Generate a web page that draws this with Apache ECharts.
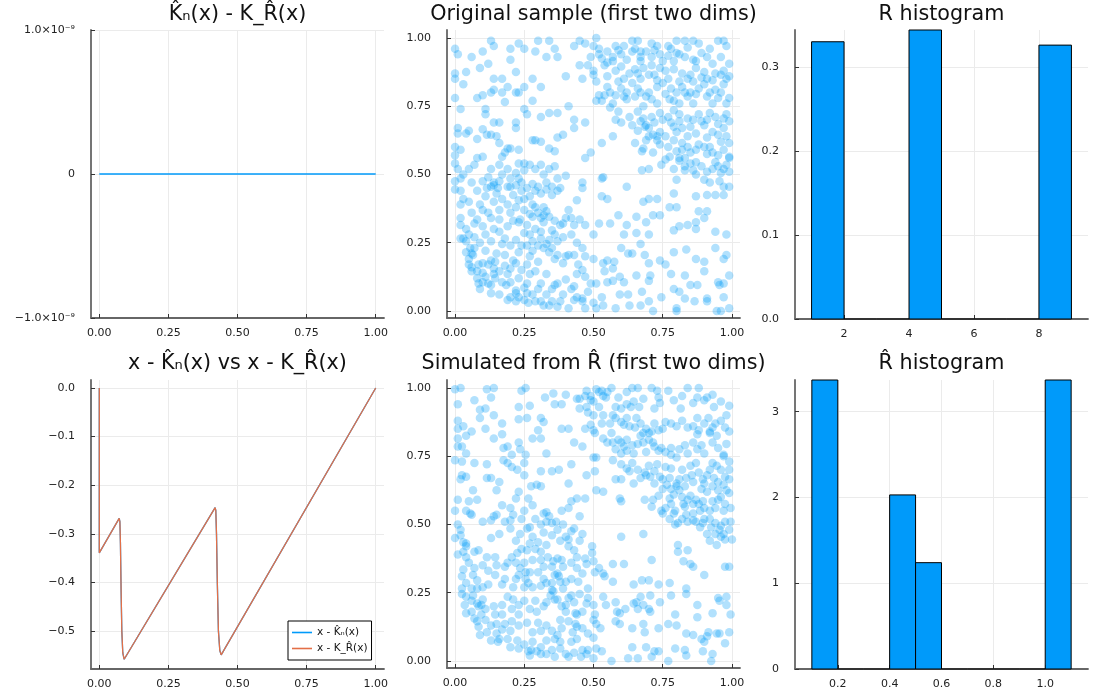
<!DOCTYPE html>
<html><head><meta charset="utf-8">
<script src="https://cdn.jsdelivr.net/npm/echarts@6/dist/echarts.min.js"></script>
<style>html,body{margin:0;padding:0;background:#fff}#c{width:1100px;height:700px}</style>
</head><body><div id="c"></div>
<script>
const FONT = 'DejaVu Sans';
const BLUE = '#009AFA';
const ORANGE = '#E36F47';

const panelTitles = ['K\u0302\u2099(x) - K_R\u0302(x)', 'Original sample (first two dims)', 'R histogram',
  'x - K\u0302\u2099(x) vs x - K_R\u0302(x)', 'Simulated from R\u0302 (first two dims)', 'R\u0302 histogram'];
const legendNames = ['x - K\u0302\u2099(x)', 'x - K_R\u0302(x)'];

// Panel 1: difference (identically zero)
const diffX = [0, 1];
const diffY = [0, 0];
const diffYTicks = [-1e-9, 0, 1e-9];
const diffYLabels = ['\u22121.0\u00d710\u207b\u2079', '0', '1.0\u00d710\u207b\u2079'];

// Unit ticks
const unitTicks = [0, 0.25, 0.5, 0.75, 1];
const unitLabels = ['0.00', '0.25', '0.50', '0.75', '1.00'];

// Panel 4: x - K(x)
const curveX = [0, 0, 0.072, 0.0745, 0.0765, 0.079, 0.0815, 0.085, 0.09, 0.0965, 0.419, 0.4215, 0.424, 0.427, 0.431, 0.436, 0.441, 0.446, 1.0];
const curveY = [0, -0.339, -0.268, -0.275, -0.32, -0.42, -0.50, -0.545, -0.558, -0.562, -0.246, -0.252, -0.30, -0.40, -0.50, -0.54, -0.549, -0.551, 0];
const curveYTicks = [-0.5, -0.4, -0.3, -0.2, -0.1, 0];
const curveYLabels = ['\u22120.5', '\u22120.4', '\u22120.3', '\u22120.2', '\u22120.1', '0.0'];

// Panel 3: R histogram
const rEdges = [1, 2, 3, 4, 5, 6, 7, 8, 9];
const rDensity = [0.330, 0, 0, 0.344, 0, 0, 0, 0.326];
const rXTicks = [2, 4, 6, 8];
const rXLabels = ['2', '4', '6', '8'];
const rYTicks = [0, 0.1, 0.2, 0.3];
const rYLabels = ['0.0', '0.1', '0.2', '0.3'];

// Panel 6: R-hat histogram
const rhEdges = [0.1, 0.2, 0.3, 0.4, 0.5, 0.6, 0.7, 0.8, 0.9, 1.0, 1.1];
const rhDensity = [3.37, 0, 0, 2.03, 1.24, 0, 0, 0, 0, 3.37];
const rhXTicks = [0.2, 0.4, 0.6, 0.8, 1.0];
const rhXLabels = ['0.2', '0.4', '0.6', '0.8', '1.0'];
const rhYTicks = [0, 1, 2, 3];
const rhYLabels = ['0', '1', '2', '3'];

// Panel 2: original sample
const origPts = [
[0.00,.96],[0.01,.94],[0.13,.99],[0.14,.97],[0.10,.95],[0.06,.93],[0.20,.96],[0.23,.98],[0.25,.96],[0.30,.99],[0.34,.99],[0.36,.96],[0.29,.95],[0.33,.93],[0.37,.93],[0.45,.99],[0.43,.97],[0.47,.98],[0.51,1.0],[0.50,.97],[0.52,.94],[0.53,.925],[0.55,.95],[0.49,.93],[0.58,.97],[0.61,.97],[0.64,.99],[0.66,.99],[0.67,.95],[0.64,.95],[0.60,.94],[0.57,.93],[0.67,.93],[0.71,.98],[0.73,.97],[0.74,.94],[0.77,.97],[0.78,.96],[0.80,.99],[0.83,.99],[0.86,.99],[0.81,.94],[0.83,.93],[0.86,.92],[0.88,.98],[0.92,.96],[0.95,.99],[0.97,.99],[0.98,.97],[0.91,.93],[0.96,.93],[0.71,.93],
[0.00,.87],[0.00,.85],[0.03,.83],[0.04,.875],[0.09,.89],[0.12,.905],[0.20,.92],[0.17,.85],[0.22,.875],[0.14,.85],[0.28,.85],[0.40,.86],[0.46,.85],[0.45,.90],[0.48,.90],[0.50,.88],[0.50,.865],[0.51,.84],[0.54,.90],[0.57,.915],[0.58,.88],[0.60,.895],[0.63,.87],[0.61,.85],[0.65,.885],[0.67,.85],[0.68,.89],[0.71,.90],[0.74,.89],[0.72,.865],[0.76,.88],[0.79,.885],[0.82,.87],[0.85,.865],[0.87,.89],[0.84,.85],[0.90,.875],[0.91,.85],[0.94,.87],[0.96,.865],[0.98,.85],[0.87,.915],[0.79,.915],[0.67,.915],
[0.00,.78],[0.08,.78],[0.10,.79],[0.13,.80],[0.14,.81],[0.17,.80],[0.19,.82],[0.22,.80],[0.23,.80],[0.25,.82],[0.31,.82],[0.28,.77],[0.18,.765],[0.51,.77],[0.52,.79],[0.54,.79],[0.56,.80],[0.58,.79],[0.60,.815],[0.62,.80],[0.65,.785],[0.67,.80],[0.69,.785],[0.70,.80],[0.73,.82],[0.75,.835],[0.78,.815],[0.80,.80],[0.82,.82],[0.84,.785],[0.85,.80],[0.88,.815],[0.90,.83],[0.92,.80],[0.94,.81],[0.96,.80],[0.99,.78],[0.93,.76],[0.86,.76],[0.81,.76],[0.775,.775],[0.73,.76],[0.68,.75],[0.62,.775],[0.57,.76],[0.53,.77],
[0.02,.74],[0.01,.67],[0.01,.65],[0.05,.66],[0.11,.74],[0.11,.72],[0.10,.665],[0.14,.69],[0.16,.69],[0.13,.645],[0.22,.69],[0.22,.67],[0.25,.74],[0.26,.72],[0.31,.71],[0.34,.725],[0.37,.725],[0.43,.70],[0.47,.69],[0.43,.67],[0.41,.75],[0.56,.745],[0.58,.70],[0.60,.69],[0.64,.68],[0.67,.695],[0.69,.68],[0.70,.67],[0.71,.71],[0.74,.725],[0.77,.71],[0.79,.735],[0.81,.72],[0.84,.705],[0.88,.72],[0.91,.70],[0.94,.71],[0.97,.705],[0.99,.695],[0.97,.67],[0.93,.655],[0.90,.68],[0.85,.675],[0.81,.695],[0.79,.675],[0.74,.655],[0.73,.64],[0.685,.675],
[0.00,.60],[0.00,.57],[0.02,.59],[0.04,.65],[0.08,.63],[0.10,.565],[0.115,.645],[0.15,.64],[0.16,.615],[0.19,.595],[0.20,.595],[0.18,.58],[0.17,.565],[0.23,.59],[0.28,.625],[0.29,.625],[0.31,.62],[0.34,.595],[0.36,.585],[0.37,.635],[0.39,.645],[0.47,.56],[0.49,.58],[0.53,.615],[0.57,.64],[0.65,.615],[0.68,.595],[0.69,.625],[0.715,.645],[0.73,.625],[0.74,.61],[0.715,.58],[0.675,.585],[0.79,.625],[0.80,.585],[0.82,.59],[0.85,.58],[0.87,.59],[0.90,.60],[0.93,.58],[0.96,.62],[0.99,.615],[0.99,.565],[0.91,.575],[0.775,.565],[0.81,.56],
[0.00,.54],[0.01,.52],[0.02,.485],[0.00,.475],[0.05,.52],[0.07,.535],[0.08,.56],[0.13,.52],[0.16,.535],[0.19,.52],[0.23,.54],[0.25,.54],[0.27,.535],[0.29,.52],[0.31,.535],[0.34,.52],[0.36,.53],[0.37,.485],[0.40,.495],[0.20,.485],[0.23,.485],[0.16,.475],[0.14,.47],[0.10,.475],[0.46,.47],[0.53,.485],[0.535,.49],[0.62,.455],[0.675,.515],[0.70,.52],[0.745,.535],[0.76,.555],[0.79,.52],[0.81,.55],[0.83,.53],[0.85,.54],[0.86,.515],[0.83,.515],[0.87,.50],[0.90,.48],[0.91,.51],[0.93,.52],[0.95,.53],[0.97,.52],[0.99,.56],[0.99,.51],[0.98,.535],[0.955,.475],[0.92,.47],[0.80,.48],
[0.00,.445],[0.02,.44],[0.02,.39],[0.03,.41],[0.115,.45],[0.13,.455],[0.14,.46],[0.155,.45],[0.19,.455],[0.20,.455],[0.22,.46],[0.24,.44],[0.25,.41],[0.23,.405],[0.27,.42],[0.29,.44],[0.31,.43],[0.33,.445],[0.35,.425],[0.37,.44],[0.38,.45],[0.09,.39],[0.10,.37],[0.14,.40],[0.19,.39],[0.22,.38],[0.28,.39],[0.29,.38],[0.32,.38],[0.33,.365],[0.44,.405],[0.46,.45],[0.53,.42],[0.55,.41],[0.68,.40],[0.70,.41],[0.73,.41],[0.715,.35],[0.775,.38],[0.79,.43],[0.80,.38],[0.87,.42],[0.91,.425],[0.94,.425],[0.97,.425],[0.99,.455],[0.97,.455],[0.88,.365],[0.91,.365],
[0.02,.34],[0.02,.315],[0.04,.30],[0.02,.265],[0.07,.32],[0.10,.31],[0.07,.27],[0.13,.34],[0.16,.335],[0.23,.325],[0.235,.335],[0.26,.315],[0.28,.345],[0.31,.34],[0.32,.35],[0.32,.325],[0.29,.30],[0.31,.29],[0.35,.295],[0.36,.28],[0.38,.315],[0.41,.37],[0.42,.34],[0.43,.315],[0.45,.335],[0.47,.315],[0.50,.28],[0.16,.29],[0.27,.28],[0.25,.285],[0.52,.32],[0.56,.32],[0.59,.35],[0.62,.315],[0.655,.345],[0.69,.325],[0.74,.35],[0.79,.295],[0.81,.31],[0.84,.315],[0.87,.325],[0.87,.30],[0.90,.34],[0.94,.29],[0.98,.28],[0.70,.28],[0.655,.285],[0.61,.28],
[0.03,.265],[0.04,.255],[0.055,.23],[0.06,.21],[0.04,.215],[0.05,.19],[0.065,.205],[0.05,.17],[0.06,.16],[0.085,.17],[0.10,.175],[0.12,.17],[0.13,.185],[0.145,.18],[0.17,.245],[0.20,.24],[0.21,.185],[0.22,.175],[0.24,.24],[0.26,.24],[0.28,.22],[0.30,.24],[0.32,.23],[0.34,.215],[0.35,.23],[0.33,.245],[0.37,.205],[0.40,.20],[0.41,.205],[0.43,.205],[0.42,.28],[0.445,.17],[0.47,.20],[0.50,.19],[0.535,.175],[0.55,.185],[0.575,.18],[0.57,.155],[0.60,.23],[0.625,.21],[0.64,.21],[0.67,.245],[0.685,.205],[0.70,.175],[0.74,.185],[0.76,.17],[0.79,.215],[0.835,.225],[0.87,.19],[0.90,.18],[0.97,.19],[0.94,.23],[0.98,.205],[0.30,.18],[0.26,.17],
[0.06,.145],[0.08,.12],[0.085,.10],[0.10,.105],[0.09,.08],[0.12,.10],[0.13,.095],[0.13,.065],[0.145,.12],[0.17,.105],[0.185,.095],[0.20,.105],[0.22,.075],[0.22,.065],[0.14,.135],[0.16,.145],[0.19,.135],[0.26,.10],[0.27,.135],[0.29,.145],[0.30,.08],[0.31,.10],[0.33,.135],[0.35,.08],[0.36,.095],[0.37,.10],[0.42,.08],[0.43,.09],[0.44,.135],[0.46,.15],[0.49,.10],[0.51,.10],[0.54,.145],[0.55,.105],[0.57,.11],[0.595,.125],[0.61,.105],[0.655,.13],[0.70,.11],[0.705,.13],[0.78,.135],[0.81,.07],[0.83,.13],[0.85,.095],[0.875,.095],[0.90,.145],[0.95,.105],[0.97,.10],[0.99,.13],[0.955,.095],[0.79,.08],[0.675,.07],
[0.16,.06],[0.19,.04],[0.23,.05],[0.26,.065],[0.265,.03],[0.29,.035],[0.31,.035],[0.32,.02],[0.34,.02],[0.35,.035],[0.37,.015],[0.38,.035],[0.41,.01],[0.43,.04],[0.46,.045],[0.46,.035],[0.47,.01],[0.50,.03],[0.51,.01],[0.535,.02],[0.58,.01],[0.595,.06],[0.625,.06],[0.63,.02],[0.67,.02],[0.70,.035],[0.715,.00],[0.745,.05],[0.80,.01],[0.80,.00],[0.83,.045],[0.865,.035],[0.91,.045],[0.91,.035],[0.945,.00],[0.96,.00],[0.97,.05],[0.99,.01],
[0.52,.96],[0.55,.91],[0.59,.955],[0.62,.92],[0.65,.96],[0.69,.95],[0.72,.955],[0.75,.915],[0.77,.935],[0.80,.945],[0.84,.965],[0.89,.945],[0.93,.905],[0.97,.88],[0.99,.905],[0.55,.86],[0.59,.84],[0.64,.835],[0.66,.87],[0.70,.865],[0.73,.845],[0.77,.85],[0.81,.84],[0.86,.84],[0.89,.855],[0.93,.845],[0.97,.83],[0.99,.86],[0.55,.82],[0.61,.785],[0.66,.815],[0.71,.775],[0.76,.795],[0.79,.77],[0.83,.80],[0.87,.795],[0.91,.785],[0.95,.78],[0.98,.76],[0.59,.73],[0.63,.71],[0.66,.73],[0.68,.705],[0.72,.69],[0.75,.70],[0.78,.69],[0.82,.67],[0.86,.70],[0.89,.695],[0.92,.725],[0.95,.685],[0.98,.72],[0.66,.66],[0.70,.64],[0.76,.64],[0.80,.655],[0.84,.64],[0.87,.65],[0.91,.635],[0.95,.645],[0.98,.64],[0.77,.60],[0.82,.615],[0.84,.60],[0.88,.61],[0.92,.60],[0.95,.57],[0.97,.59],[0.83,.56],[0.87,.545],[0.89,.53],[0.94,.545],[0.96,.505],
[0.03,.50],[0.06,.47],[0.08,.44],[0.11,.42],[0.15,.43],[0.17,.41],[0.21,.425],[0.24,.47],[0.26,.45],[0.28,.465],[0.30,.455],[0.33,.47],[0.35,.455],[0.22,.505],[0.25,.515],[0.32,.50],[0.12,.49],[0.17,.50],[0.05,.40],[0.06,.36],[0.08,.335],[0.12,.36],[0.16,.37],[0.20,.36],[0.25,.37],[0.27,.355],[0.30,.36],[0.34,.345],[0.36,.33],[0.39,.32],[0.40,.34],[0.21,.33],[0.19,.31],[0.14,.30],[0.11,.28],[0.05,.28],[0.09,.25],[0.13,.255],[0.18,.265],[0.22,.26],[0.28,.255],[0.31,.265],[0.34,.26],[0.37,.255],[0.39,.27],[0.44,.25],[0.46,.23],[0.07,.23],[0.11,.22],[0.15,.21],[0.18,.205],[0.23,.215],[0.27,.20],[0.36,.19],[0.39,.175],[0.08,.145],[0.10,.14],[0.11,.125],[0.14,.155],[0.18,.165],[0.20,.155],[0.24,.15],[0.23,.12],[0.25,.085],[0.28,.06],[0.20,.05],[0.22,.035],[0.25,.04],[0.33,.06],[0.39,.06],[0.44,.05],[0.48,.07],[0.53,.05],[0.40,.115],[0.47,.125]
];

// Panel 5: simulated from R-hat
const simPts = [
[0.00,.995],[0.02,1.0],[0.01,.94],[0.07,.955],[0.115,.995],[0.14,1.0],[0.13,.965],[0.09,.92],[0.11,.925],[0.24,.99],[0.255,1.0],[0.23,.93],[0.27,.935],[0.325,.965],[0.355,.98],[0.36,.94],[0.385,.94],[0.40,.975],[0.44,.96],[0.45,.96],[0.475,.99],[0.49,.97],[0.51,.995],[0.52,.985],[0.53,.99],[0.535,.97],[0.545,.965],[0.49,.955],[0.475,.93],[0.45,.925],[0.565,1.0],[0.58,.93],[0.60,.925],[0.64,1.0],[0.66,1.0],[0.62,.94],[0.635,.93],[0.645,.95],[0.665,.93],[0.71,1.0],[0.73,.99],[0.735,.965],[0.74,.945],[0.79,.955],[0.84,1.0],[0.88,1.0],[0.875,.965],[0.90,.955],[0.91,.965],[0.935,.93],[0.99,.935],[0.815,.925],[0.72,.925],
[0.01,.88],[0.03,.86],[0.01,.85],[0.06,.84],[0.09,.89],[0.11,.85],[0.17,.87],[0.14,.90],[0.23,.885],[0.26,.89],[0.31,.89],[0.32,.875],[0.30,.845],[0.385,.85],[0.41,.85],[0.47,.85],[0.50,.845],[0.49,.865],[0.50,.90],[0.535,.90],[0.57,.90],[0.58,.89],[0.60,.875],[0.61,.865],[0.63,.86],[0.655,.89],[0.67,.87],[0.69,.85],[0.70,.835],[0.71,.84],[0.735,.845],[0.75,.85],[0.78,.87],[0.80,.86],[0.84,.855],[0.875,.89],[0.90,.87],[0.915,.89],[0.94,.87],[0.975,.855],[0.98,.90],[0.92,.835],[0.875,.83],
[0.01,.815],[0.04,.825],[0.025,.785],[0.01,.785],[0.04,.76],[0.00,.735],[0.14,.815],[0.17,.83],[0.175,.78],[0.19,.785],[0.205,.755],[0.235,.775],[0.23,.80],[0.28,.815],[0.31,.815],[0.33,.76],[0.255,.755],[0.43,.80],[0.46,.785],[0.505,.835],[0.535,.815],[0.565,.835],[0.57,.80],[0.59,.81],[0.60,.80],[0.62,.81],[0.64,.79],[0.645,.76],[0.67,.825],[0.68,.80],[0.70,.81],[0.715,.80],[0.735,.77],[0.745,.78],[0.78,.755],[0.78,.78],[0.81,.775],[0.84,.76],[0.875,.775],[0.90,.76],[0.93,.80],[0.945,.825],[0.97,.755],[0.92,.84],[0.60,.76],[0.62,.77],
[0.025,.73],[0.025,.68],[0.02,.665],[0.04,.675],[0.07,.725],[0.115,.72],[0.115,.67],[0.13,.67],[0.16,.655],[0.175,.735],[0.19,.725],[0.205,.71],[0.225,.70],[0.25,.725],[0.25,.68],[0.275,.64],[0.295,.645],[0.31,.64],[0.31,.695],[0.35,.695],[0.375,.70],[0.41,.65],[0.42,.72],[0.475,.68],[0.505,.695],[0.51,.745],[0.50,.745],[0.58,.665],[0.60,.665],[0.62,.705],[0.64,.725],[0.645,.65],[0.67,.67],[0.685,.69],[0.69,.68],[0.705,.675],[0.72,.695],[0.74,.675],[0.76,.71],[0.775,.67],[0.80,.65],[0.81,.665],[0.835,.67],[0.855,.68],[0.87,.725],[0.90,.65],[0.91,.68],[0.93,.725],[0.935,.67],[0.95,.655],[0.975,.675],[0.99,.70],[0.99,.73],[0.97,.75],[0.945,.715],[0.895,.665],
[0.01,.59],[0.00,.55],[0.04,.55],[0.05,.585],[0.065,.625],[0.08,.59],[0.15,.625],[0.17,.57],[0.20,.56],[0.22,.595],[0.23,.62],[0.265,.595],[0.28,.57],[0.33,.545],[0.385,.55],[0.41,.56],[0.42,.585],[0.44,.595],[0.47,.595],[0.51,.625],[0.535,.62],[0.595,.595],[0.60,.585],[0.685,.59],[0.71,.565],[0.715,.59],[0.735,.605],[0.75,.63],[0.765,.645],[0.775,.595],[0.79,.61],[0.80,.64],[0.81,.625],[0.825,.575],[0.83,.565],[0.84,.59],[0.86,.575],[0.88,.575],[0.895,.585],[0.91,.62],[0.93,.585],[0.95,.59],[0.96,.60],[0.975,.575],[0.995,.56],[0.98,.625],[0.97,.645],[0.745,.55],[0.76,.56],[0.795,.55],[0.885,.55],
[0.01,.50],[0.02,.48],[0.03,.435],[0.00,.45],[0.04,.43],[0.06,.535],[0.055,.54],[0.10,.51],[0.13,.515],[0.14,.53],[0.15,.535],[0.18,.51],[0.20,.515],[0.20,.485],[0.235,.465],[0.24,.52],[0.26,.485],[0.27,.49],[0.29,.52],[0.31,.50],[0.32,.54],[0.33,.51],[0.35,.505],[0.365,.51],[0.37,.48],[0.39,.50],[0.40,.455],[0.42,.475],[0.43,.485],[0.45,.53],[0.46,.465],[0.60,.455],[0.68,.465],[0.75,.54],[0.775,.52],[0.79,.54],[0.795,.50],[0.805,.505],[0.835,.535],[0.84,.51],[0.86,.54],[0.87,.51],[0.895,.505],[0.91,.465],[0.925,.49],[0.94,.505],[0.955,.48],[0.975,.51],[0.995,.51],[0.97,.465],[0.94,.465],[0.975,.445],[1.0,.445],[0.885,.49],
[0.01,.39],[0.04,.38],[0.04,.42],[0.07,.40],[0.085,.405],[0.115,.38],[0.145,.38],[0.18,.345],[0.205,.38],[0.225,.395],[0.24,.41],[0.26,.405],[0.27,.43],[0.30,.435],[0.29,.41],[0.31,.40],[0.33,.425],[0.335,.38],[0.355,.365],[0.37,.375],[0.385,.37],[0.41,.445],[0.41,.42],[0.43,.405],[0.44,.38],[0.47,.375],[0.495,.42],[0.495,.395],[0.475,.355],[0.50,.365],[0.235,.34],[0.255,.325],[0.57,.355],[0.61,.355],[0.71,.37],[0.805,.425],[0.805,.40],[0.84,.405],[0.825,.365],[0.85,.355],[0.86,.345],[0.945,.425],[0.99,.345],[0.975,.345],
[0.03,.335],[0.025,.31],[0.04,.285],[0.065,.315],[0.08,.295],[0.08,.265],[0.06,.265],[0.025,.265],[0.145,.315],[0.18,.30],[0.22,.30],[0.23,.315],[0.255,.30],[0.265,.285],[0.27,.325],[0.30,.325],[0.32,.30],[0.33,.285],[0.35,.26],[0.36,.315],[0.375,.31],[0.37,.32],[0.40,.29],[0.42,.30],[0.445,.29],[0.48,.265],[0.505,.325],[0.52,.34],[0.535,.32],[0.54,.31],[0.57,.29],[0.645,.28],[0.675,.295],[0.70,.295],[0.735,.28],[0.775,.285],[0.835,.265],[0.90,.315],
[0.025,.245],[0.04,.235],[0.065,.24],[0.035,.205],[0.04,.175],[0.06,.18],[0.07,.155],[0.085,.20],[0.10,.225],[0.095,.205],[0.095,.17],[0.145,.17],[0.17,.17],[0.19,.235],[0.205,.19],[0.23,.205],[0.23,.17],[0.27,.19],[0.295,.18],[0.32,.20],[0.345,.24],[0.355,.255],[0.36,.225],[0.385,.20],[0.40,.205],[0.41,.23],[0.42,.24],[0.435,.175],[0.44,.17],[0.46,.18],[0.475,.21],[0.50,.205],[0.505,.17],[0.535,.235],[0.545,.205],[0.58,.215],[0.585,.18],[0.595,.175],[0.615,.19],[0.645,.21],[0.655,.215],[0.66,.19],[0.68,.205],[0.70,.19],[0.705,.18],[0.705,.24],[0.74,.215],[0.78,.24],[0.795,.17],[0.835,.245],[0.875,.205],[0.875,.16],[0.93,.175],[0.95,.23],[0.98,.235],[0.98,.205],[0.995,.17],[0.955,.22],[0.67,.235],
[0.08,.145],[0.085,.125],[0.09,.095],[0.115,.105],[0.13,.075],[0.15,.10],[0.155,.07],[0.16,.08],[0.19,.08],[0.225,.075],[0.18,.135],[0.205,.145],[0.28,.105],[0.31,.11],[0.36,.08],[0.37,.095],[0.385,.12],[0.425,.105],[0.44,.125],[0.435,.135],[0.42,.07],[0.50,.15],[0.51,.135],[0.525,.12],[0.58,.145],[0.595,.135],[0.64,.12],[0.68,.135],[0.685,.105],[0.735,.12],[0.77,.135],[0.80,.13],[0.835,.10],[0.86,.095],[0.89,.08],[0.90,.07],[0.915,.105],[0.945,.10],[0.955,.10],[0.975,.065],[0.99,.105],[0.91,.09],
[0.23,.045],[0.265,.035],[0.275,.04],[0.295,.035],[0.31,.05],[0.33,.025],[0.36,.015],[0.40,.025],[0.41,.015],[0.455,.015],[0.46,.04],[0.475,.025],[0.50,.01],[0.51,.045],[0.565,.00],[0.625,.01],[0.64,.05],[0.66,.01],[0.69,.05],[0.71,.015],[0.72,.035],[0.735,.035],[0.77,.00],[0.795,.045],[0.83,.04],[0.835,.02],[0.895,.035],[0.925,.00],[0.93,.025],
[0.47,.97],[0.50,.95],[0.52,.93],[0.48,.91],[0.55,.985],[0.59,.965],[0.62,.985],[0.68,.96],[0.77,.99],[0.82,.97],[0.86,.945],[0.93,.975],[0.96,.95],[0.53,.87],[0.56,.87],[0.62,.89],[0.65,.855],[0.68,.835],[0.72,.87],[0.76,.875],[0.82,.88],[0.86,.86],[0.88,.845],[0.93,.855],[0.96,.88],[0.99,.84],[0.55,.80],[0.58,.775],[0.61,.785],[0.66,.795],[0.69,.765],[0.72,.785],[0.76,.765],[0.80,.745],[0.83,.79],[0.86,.80],[0.89,.79],[0.95,.78],[0.98,.795],[0.57,.735],[0.60,.72],[0.63,.695],[0.66,.70],[0.70,.715],[0.73,.72],[0.78,.705],[0.82,.70],[0.85,.715],[0.88,.69],[0.92,.70],[0.96,.70],[0.99,.665],[0.72,.65],[0.75,.665],[0.78,.63],[0.83,.64],[0.86,.655],[0.89,.63],[0.93,.64],[0.95,.625],[0.99,.615],[0.78,.575],[0.82,.60],[0.85,.605],[0.87,.59],[0.90,.56],[0.92,.55],[0.94,.56],[0.97,.55],[0.82,.52],[0.86,.515],[0.90,.52],[0.92,.52],[0.96,.495],[0.99,.48],[0.92,.44],[0.96,.455],
[0.02,.46],[0.03,.40],[0.05,.36],[0.07,.34],[0.10,.35],[0.12,.33],[0.15,.35],[0.19,.36],[0.22,.36],[0.25,.36],[0.28,.37],[0.31,.37],[0.32,.345],[0.35,.345],[0.39,.345],[0.42,.36],[0.44,.34],[0.46,.32],[0.38,.29],[0.39,.265],[0.35,.285],[0.31,.275],[0.28,.27],[0.25,.27],[0.21,.27],[0.17,.28],[0.12,.28],[0.10,.27],[0.06,.22],[0.08,.21],[0.11,.19],[0.14,.20],[0.17,.205],[0.21,.225],[0.25,.22],[0.29,.22],[0.33,.215],[0.37,.225],[0.40,.18],[0.43,.215],[0.45,.245],[0.48,.23],[0.11,.15],[0.13,.13],[0.15,.135],[0.17,.115],[0.20,.11],[0.23,.13],[0.26,.14],[0.30,.14],[0.33,.13],[0.35,.11],[0.38,.15],[0.41,.145],[0.46,.12],[0.48,.10],[0.50,.085],[0.44,.08],[0.38,.07],[0.33,.075],[0.28,.07],[0.25,.06],[0.20,.05],[0.27,.02],[0.31,.025],[0.35,.04],[0.38,.045],[0.43,.03],[0.48,.04],[0.53,.035],[0.13,.45],[0.16,.465],[0.22,.44],[0.28,.455],[0.32,.47],[0.35,.46],[0.38,.44],[0.45,.44],[0.34,.53],[0.25,.55],[0.21,.535]
];

const AXIS_COLOR = '#666';
const TICK_COLOR = '#333';
function makeAxis(gridIndex, min, max, ticks, labels, isY) {
  const fmt = function (v) {
    for (let i = 0; i < ticks.length; i++) {
      if (Math.abs(ticks[i] - v) <= Math.abs(ticks[i]) * 1e-6 + 1e-15) return labels[i];
    }
    return '';
  };
  return {
    type: 'value', gridIndex: gridIndex, min: min, max: max,
    axisLine: { show: true, onZero: false, lineStyle: { color: AXIS_COLOR, width: 1.8 } },
    axisTick: { show: true, inside: true, length: 4, customValues: ticks, lineStyle: { color: TICK_COLOR, width: 1 } },
    axisLabel: { customValues: ticks, formatter: fmt, fontSize: 11, color: '#222', fontFamily: FONT,
      margin: isY ? 16 : 10, hideOverlap: false },
    splitLine: { show: true, lineStyle: { color: '#ebebeb', width: 1 } }
  };
}

const grids = [
  { left: 91, top: 30, width: 293, height: 288 },
  { left: 447, top: 30, width: 293, height: 288 },
  { left: 795, top: 30, width: 293, height: 289 },
  { left: 91, top: 380, width: 293, height: 289 },
  { left: 447, top: 380, width: 293, height: 288 },
  { left: 795, top: 380, width: 293, height: 289 }
];

const xAxes = [
  makeAxis(0, -0.03, 1.03, unitTicks, unitLabels, false),
  makeAxis(1, -0.029, 1.029, unitTicks, unitLabels, false),
  makeAxis(2, 0.49, 9.51, rXTicks, rXLabels, false),
  makeAxis(3, -0.03, 1.03, unitTicks, unitLabels, false),
  makeAxis(4, -0.029, 1.029, unitTicks, unitLabels, false),
  makeAxis(5, 0.035, 1.165, rhXTicks, rhXLabels, false)
];
const yAxes = [
  makeAxis(0, -1e-9, 1e-9, diffYTicks, diffYLabels, true),
  makeAxis(1, -0.026, 1.029, unitTicks, unitLabels, true),
  makeAxis(2, 0, 0.344, rYTicks, rYLabels, true),
  makeAxis(3, -0.578, 0.0165, curveYTicks, curveYLabels, true),
  makeAxis(4, -0.026, 1.029, unitTicks, unitLabels, true),
  makeAxis(5, 0, 3.37, rhYTicks, rhYLabels, true)
];

const centers = grids.map(g => g.left + g.width / 2);
const titleTops = [4, 4, 4, 353, 353, 353];
const titleOpts = panelTitles.map((t, i) => ({
  text: t, left: centers[i], top: titleTops[i], textAlign: 'center', padding: 0,
  textStyle: { fontSize: 20.7, fontWeight: 'normal', color: '#111', fontFamily: FONT }
}));

function histData(edges, dens) {
  const out = [];
  for (let i = 0; i < dens.length; i++) out.push([edges[i], edges[i + 1], dens[i]]);
  return out;
}
function histRender(params, api) {
  const x0 = api.value(0), x1 = api.value(1), h = api.value(2);
  const p0 = api.coord([x0, h]);
  const p1 = api.coord([x1, 0]);
  if (h === 0) {
    return { type: 'line', shape: { x1: p0[0], y1: p1[1], x2: p1[0], y2: p1[1] }, style: { stroke: '#000', lineWidth: 1 } };
  }
  return { type: 'rect', shape: { x: p0[0], y: p0[1], width: p1[0] - p0[0], height: p1[1] - p0[1] },
    style: { fill: BLUE, stroke: '#000', lineWidth: 1 } };
}

const zip = (a, b) => a.map((v, i) => [v, b[i]]);

const option = {
  animation: false,
  backgroundColor: '#fff',
  title: titleOpts,
  grid: grids,
  xAxis: xAxes,
  yAxis: yAxes,
  legend: {
    data: legendNames, left: 288, top: 621, orient: 'vertical', icon: 'rect',
    backgroundColor: '#fff', borderColor: '#000', borderWidth: 1, borderRadius: 0,
    padding: [5, 4, 5, 4], itemGap: 3, itemWidth: 20, itemHeight: 1.6,
    textStyle: { fontSize: 10.5, fontFamily: FONT, color: '#111', lineHeight: 13 }
  },
  series: [
    { type: 'line', xAxisIndex: 0, yAxisIndex: 0, data: zip(diffX, diffY), showSymbol: false, symbol: 'none',
      lineStyle: { color: BLUE, width: 1.3 }, itemStyle: { color: BLUE } },
    { type: 'scatter', xAxisIndex: 1, yAxisIndex: 1, data: origPts, symbolSize: 8.5,
      itemStyle: { color: BLUE, opacity: 0.3 } },
    { type: 'custom', xAxisIndex: 2, yAxisIndex: 2, data: histData(rEdges, rDensity), renderItem: histRender },
    { name: legendNames[0], type: 'line', xAxisIndex: 3, yAxisIndex: 3, data: zip(curveX, curveY), showSymbol: false, symbol: 'none',
      lineStyle: { color: BLUE, width: 1.3 }, itemStyle: { color: BLUE } },
    { name: legendNames[1], type: 'line', xAxisIndex: 3, yAxisIndex: 3, data: zip(curveX, curveY), showSymbol: false, symbol: 'none',
      lineStyle: { color: ORANGE, width: 1.3 }, itemStyle: { color: ORANGE } },
    { type: 'scatter', xAxisIndex: 4, yAxisIndex: 4, data: simPts, symbolSize: 8.5,
      itemStyle: { color: BLUE, opacity: 0.3 } },
    { type: 'custom', xAxisIndex: 5, yAxisIndex: 5, data: histData(rhEdges, rhDensity), renderItem: histRender }
  ]
};

const chart = echarts.init(document.getElementById('c'), null, { renderer: 'canvas' });
chart.setOption(option);
</script>
</body></html>
